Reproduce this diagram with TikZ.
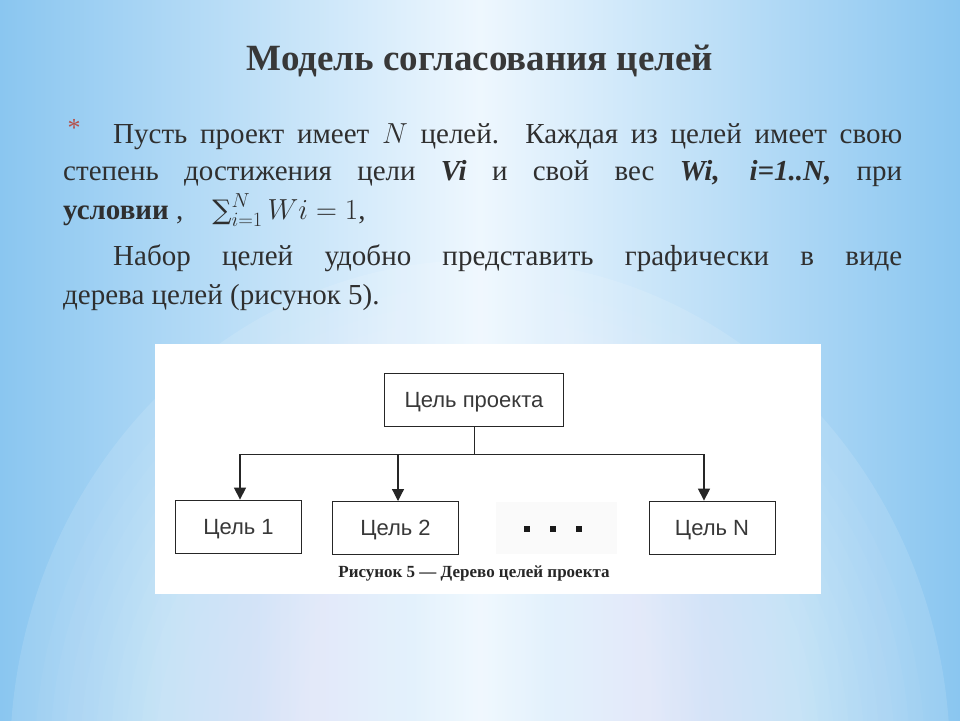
\RequirePackage{fix-cm}
\documentclass[tikz,border=0pt]{standalone}
\usepackage{fontspec}
\setmainfont{Liberation Serif}
\newfontfamily\arialf{Liberation Sans}
\newfontfamily\dejaserif{DejaVu Serif}
\usetikzlibrary{arrows.meta}
\definecolor{bgblue}{HTML}{8AC6F0}
\definecolor{bgmid}{HTML}{EEF7FE}
\definecolor{bodygray}{HTML}{2F2F2F}
\definecolor{titlegray}{HTML}{383838}
\definecolor{bulletred}{HTML}{B5504A}
\tikzset{
  goal/.style={draw=black!85, line width=0.8pt, fill=white, minimum width=126pt,
    minimum height=53pt, inner sep=0pt, text=black!78,
    text height=15.7pt, text depth=0pt,
    font=\arialf\fontsize{22}{24}\selectfont},
  conn/.style={draw=black!85, line width=0.9pt},
  arr/.style={conn, line width=1.2pt, -{Triangle[length=12pt,width=12pt]}},
  bodytext/.style={anchor=base west, inner sep=0pt, text=bodygray,
    font=\fontsize{29}{34}\selectfont},
}
\begin{document}
\begin{tikzpicture}[x=1pt,y=-1pt]
\useasboundingbox (0,0) rectangle (960,720);
% background
\shade[left color=bgblue, right color=bgblue, middle color=bgmid] (0,0) rectangle (960,720);
\fill[white, opacity=0.12] (480,760) ellipse (470 and 500);
\foreach \i in {1,...,24}{
  \fill[white, opacity=0.035] (480,760) ellipse ({460-15*\i} and {490-16*\i});
}
% title
\node[inner sep=0pt, text=titlegray, font=\bfseries\fontsize{37}{40}\selectfont] (title) at (480,61) {Модель согласования целей};
% body text
\node[inner sep=0pt, text=bulletred, font=\fontsize{26}{30}\selectfont, anchor=base] (bullet) at (74,136) {*};
\node[bodytext] (l1) at (113,143) {\makebox[789pt][s]{Пусть проект имеет $N$ целей. Каждая из целей имеет свою}};
\node[bodytext] (l2) at (63,180) {\makebox[839pt][s]{степень достижения цели \textbf{\textit{Vi}} и свой вес \textbf{\textit{Wi, i=1..N,}} при}};
\node[bodytext] (l3) at (63,219) {\textbf{условии} ,\quad $\mathop{\hbox{\dejaserif\fontsize{27}{30}\selectfont ∑}}\nolimits_{i=1}^{N} Wi = 1$,};
\node[bodytext] (l4) at (113,265) {\makebox[789pt][s]{Набор целей удобно представить графически в виде}};
\node[bodytext] (l5) at (63,304) {дерева целей (рисунок 5).};
% figure panel
\fill[white] (155,344) rectangle (821,594);
\node[goal, minimum width=179pt] (top) at (474,399.5) {Цель проекта};
\node[goal] (g1) at (238.5,526.5) {Цель 1};
\node[goal] (g2) at (395.5,527.5) {Цель 2};
\node[fill=black!2, minimum width=121pt, minimum height=52pt, inner sep=0pt] (gd) at (556.5,527.5) {};
\foreach \x in {527,553,579}{\fill[black!90] (\x-3,526) rectangle (\x+3,532);}
\node[goal] (gN) at (712,527.5) {Цель N};
\coordinate (j) at (top.south |- 0,454);
\coordinate (hl) at (240,454);
\coordinate (hr) at (704,454);
\draw[conn] (top.south) -- (j);
\draw[conn] (hl) -- (hr);
\draw[arr] (hl) -- (hl |- g1.north);
\draw[arr] (398,454) -- (398,501);
\draw[arr] (hr) -- (hr |- gN.north);
\node[inner sep=0pt, font=\bfseries\fontsize{17}{19}\selectfont, text=black!85] (cap) at (474,573) {Рисунок 5 — Дерево целей проекта};
\end{tikzpicture}
\end{document}
